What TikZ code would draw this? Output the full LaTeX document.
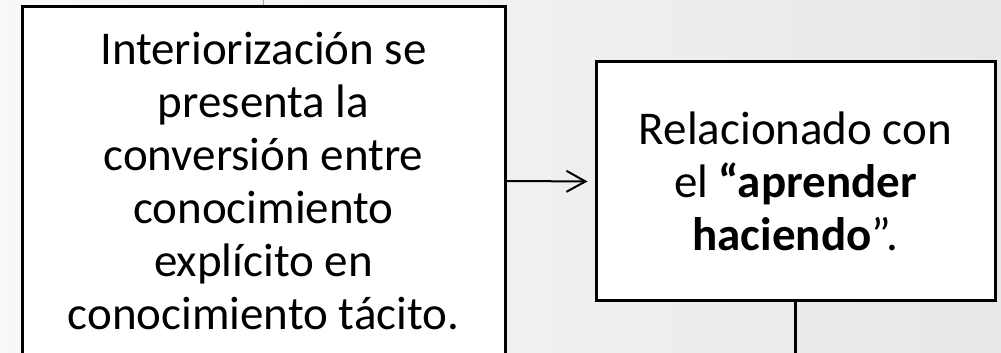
\documentclass[tikz,border=0pt]{standalone}
\usepackage{fontspec}
\setmainfont{Carlito}
\usetikzlibrary{arrows.meta}
\begin{document}
\begin{tikzpicture}[x=1pt,y=1pt,
    caja/.style={draw,line width=3pt,fill=white,align=center,inner sep=0pt,
        font=\fontsize{47}{53}\selectfont}]
    \useasboundingbox (0,0) rectangle (1001,353);
    \shade[left color=gray!5,right color=gray!18] (0,0) rectangle (1001,353);
    \clip (0,0) rectangle (1001,353);

    \node[caja,minimum width=483pt,minimum height=348pt] (interiorizacion) at (263.5,172)
        {Interiorización se\\presenta la\\conversión entre\\conocimiento\\explícito en\\conocimiento tácito.};
    \node[caja,minimum width=399pt,minimum height=239pt] (aprender) at (795.5,171.5)
        {Relacionado con\\el \textbf{“aprender}\\\textbf{haciendo}”.};

    \coordinate (arriba) at (263.5,353);
    \coordinate (abajo) at (795.5,0);

    \draw[line width=2pt,-{Straight Barb[length=19pt,width=21pt]},shorten >=7pt]
        (interiorizacion.east) -- (aprender.west);
    \draw[line width=2.5pt] (aprender.south) -- (abajo);
    \draw[gray!70,line width=0.5pt] (interiorizacion.north) -- (arriba);
\end{tikzpicture}
\end{document}
